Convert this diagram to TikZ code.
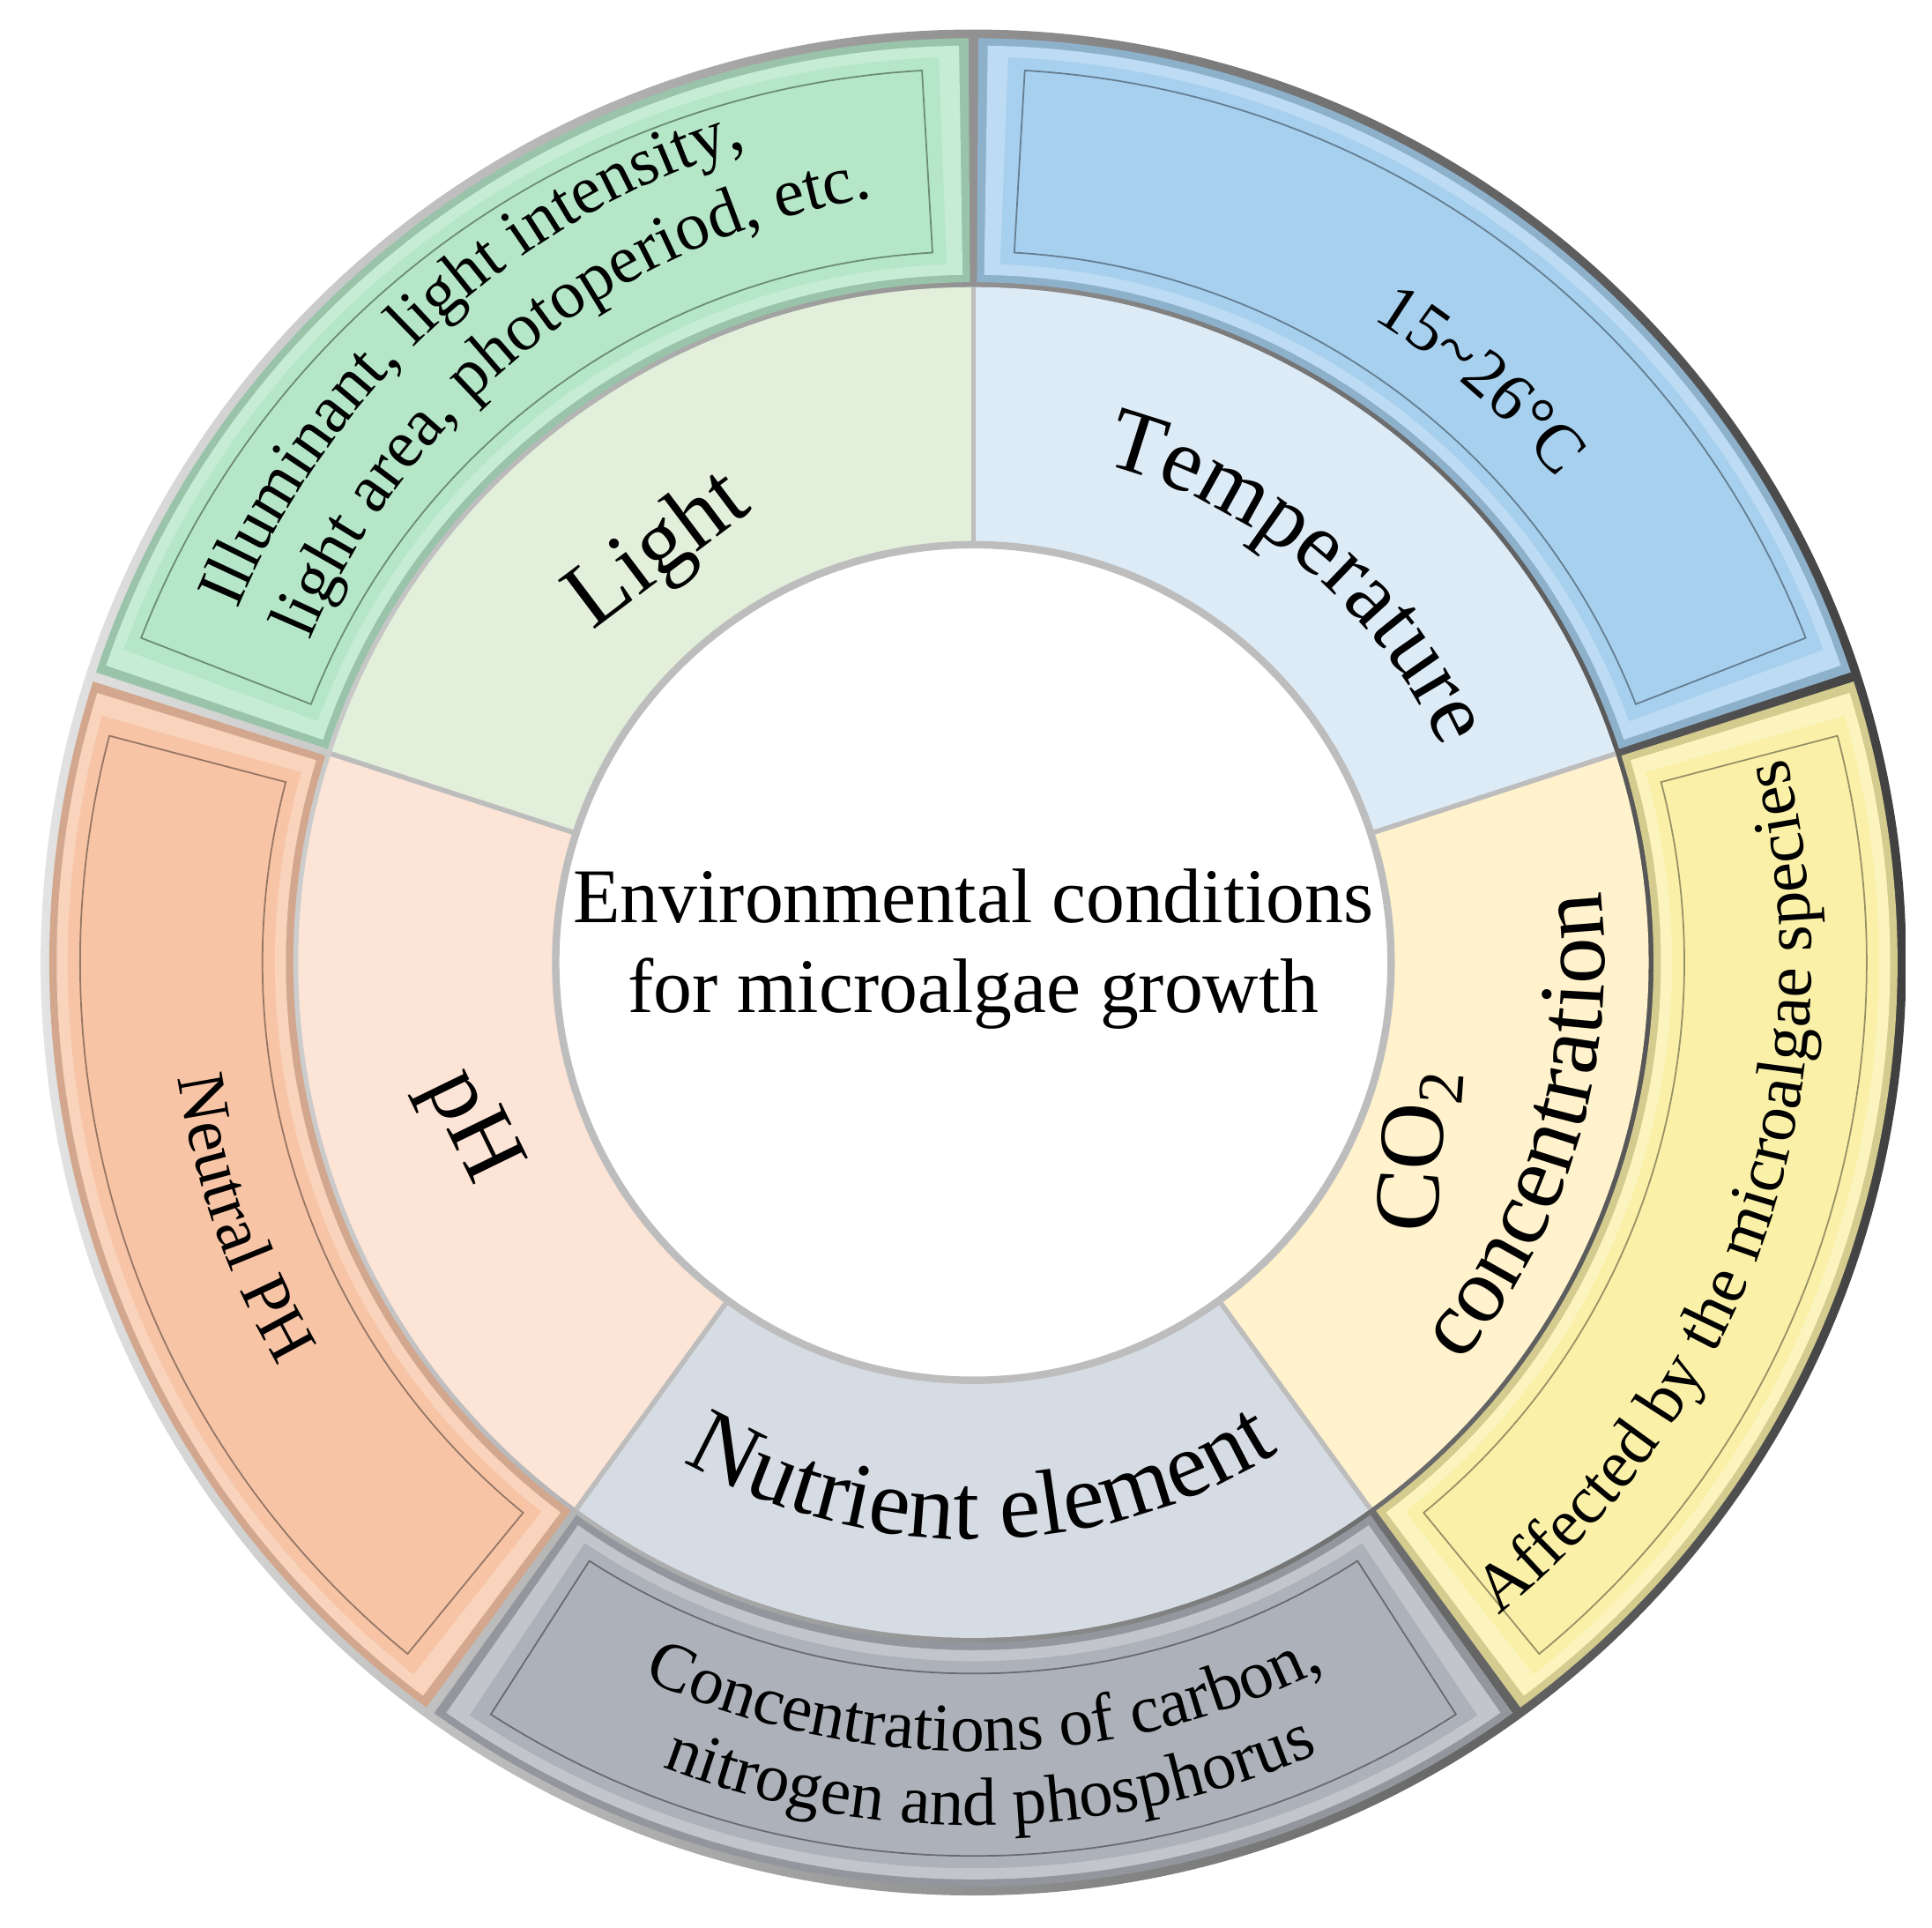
\documentclass[tikz,border=0pt]{standalone}
\usepackage{fontspec}
\setmainfont{Liberation Serif}
\usetikzlibrary{decorations.text}
\definecolor{gOut}{HTML}{B4E6C7}
\definecolor{gMid}{HTML}{E2EFDA}
\definecolor{bOut}{HTML}{A7D0EF}
\definecolor{bMid}{HTML}{DDEBF7}
\definecolor{yOut}{HTML}{FAF0A8}
\definecolor{yMid}{HTML}{FFF2CC}
\definecolor{sOut}{HTML}{ADB1B9}
\definecolor{sMid}{HTML}{D6DCE4}
\definecolor{oOut}{HTML}{F7C4A6}
\definecolor{oMid}{HTML}{FCE4D6}
\definecolor{sepGray}{HTML}{BDBDBD}
\newcommand{\annsec}[4]{(#1:#3) arc[start angle=#1,end angle=#2,radius=#3] -- (#2:#4) arc[start angle=#2,end angle=#1,radius=#4] -- cycle}
\newcommand{\outerseg}[3]{%
  \fill[#3!85!black] \annsec{#1+0.3}{#2-0.3}{552}{750};
  \fill[#3!75!white] \annsec{#1+0.9}{#2-0.9}{558}{744};
  \fill[#3] \annsec{#1+2.2}{#2-2.2}{567}{735};
  \draw[#3!60!black, line width=0.5pt] \annsec{#1+3.3}{#2-3.3}{577}{725};
}
\newcommand{\midfont}{\fontsize{30}{35}\selectfont}
\newcommand{\tempfont}{\fontsize{29}{34}\selectfont}
\newcommand{\outfont}{\fontsize{22}{26}\selectfont}
\tikzset{
  midlabel/.style={font=\midfont, inner sep=0pt},
  centerlabel/.style={font=\fontsize{25}{29}\selectfont, align=center, inner sep=0pt}
}
\begin{document}
\begin{tikzpicture}[x=0.014cm, y=0.014cm]
\useasboundingbox (-790,-783) rectangle (778,781);
% rim
\shade[even odd rule, shading angle=-45, left color=gray!22, middle color=gray!40, right color=black!75]
  (0,0) circle[radius=757] (0,0) circle[radius=546];
% outer segments
\outerseg{90}{162}{gOut}
\outerseg{18}{90}{bOut}
\outerseg{-54}{18}{yOut}
\outerseg{234}{306}{sOut}
\outerseg{162}{234}{oOut}
% middle ring
\fill[gMid] \annsec{90}{162}{339}{548};
\fill[bMid] \annsec{18}{90}{339}{548};
\fill[yMid] \annsec{-54}{18}{339}{548};
\fill[sMid] \annsec{234}{306}{339}{548};
\fill[oMid] \annsec{162}{234}{339}{548};
\foreach \a in {18,90,162,234,306}
  \draw[sepGray, line width=1.6pt] (\a:339) -- (\a:548);
\fill[white] (0,0) circle[radius=339];
\draw[sepGray, line width=2.4pt] (0,0) circle[radius=339];
% center text
\node[centerlabel] (center) at (0,11) {Environmental conditions\\for microalgae growth};
% middle labels
\node[midlabel, rotate=37] (light) at (127.4:419) {Light};
\node[midlabel, rotate=-64] (ph) at (198.1:431) {pH};
\node[midlabel, rotate=86] (co2) at (337.1:393) {CO\textsubscript{2}};
\path[decorate, decoration={text along path, text align=center, text={|\tempfont|Temperature}}]
  (110:418) arc[start angle=110, end angle=-10, radius=418];
\path[decorate, decoration={text along path, text align=center, text={|\midfont|concentration}}]
  (283.5:512) arc[start angle=283.5, end angle=403.5, radius=512];
\path[decorate, decoration={text along path, text align=center, text={|\midfont|Nutrient element}}]
  (210.9:468) arc[start angle=210.9, end angle=330.9, radius=468];
% outer labels
\path[decorate, decoration={text along path, text align=center, text={|\outfont|15{\textasciitilde}26{°}C}}]
  (98.9:615) arc[start angle=98.9, end angle=-1.1, radius=615];
\path[decorate, decoration={text along path, text align=center, text={|\outfont|Illuminant, light intensity,}}]
  ([shift={(13,30)}]192.3:662) arc[start angle=192.3, end angle=72.3, radius=662];
\path[decorate, decoration={text along path, text align=center, text={|\outfont|light area, photoperiod, etc.}}]
  ([shift={(13,30)}]188.2:598) arc[start angle=188.2, end angle=68.2, radius=598];
\path[decorate, decoration={text along path, text align=center, text={|\outfont|Neutral PH}}]
  (139.2:652) arc[start angle=139.2, end angle=259.2, radius=652];
\path[decorate, decoration={text along path, text align=center, text={|\outfont|Affected by the microalgae species}}]
  (281.5:680) arc[start angle=281.5, end angle=401.5, radius=680];
\path[decorate, decoration={text along path, text align=center, text={|\outfont|Concentrations of carbon,}}]
  (210.85:640) arc[start angle=210.85, end angle=330.85, radius=640];
\path[decorate, decoration={text along path, text align=center, text={|\outfont|nitrogen and phosphorus}}]
  (211.2:700) arc[start angle=211.2, end angle=331.2, radius=700];
\end{tikzpicture}
\end{document}
